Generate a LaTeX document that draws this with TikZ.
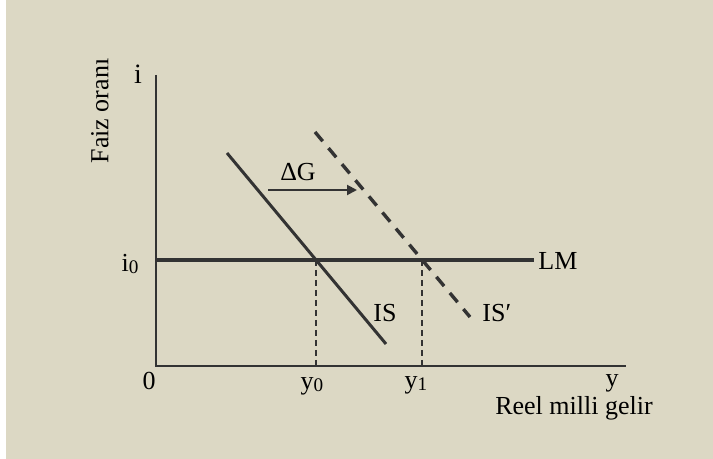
\documentclass[tikz,border=0pt]{standalone}
\usepackage{fontspec}
\setmainfont{Liberation Serif}
\usetikzlibrary{arrows.meta}
\definecolor{bgbeige}{HTML}{DCD8C4}
\definecolor{inkgray}{HTML}{333333}
\newcommand\lowsub[1]{\raisebox{-1pt}{\fontsize{9.6}{10}\selectfont#1}}
\begin{document}
\begin{tikzpicture}[x=0.5pt,y=-0.5pt,font=\fontsize{13}{15}\selectfont]
  \useasboundingbox (0,0) rectangle (713,459);
  \fill[bgbeige] (6,0) rectangle (713,459);
  \coordinate (O) at (156,366);
  \coordinate (T) at (156,75);
  \coordinate (X) at (626,366);
  \coordinate (L0) at (156,260);
  \coordinate (L1) at (534,260);
  \coordinate (E0) at (316,260);
  \coordinate (E1) at (422,260);
  \coordinate (S0) at (227,153);
  \coordinate (S1) at (386,344);
  \coordinate (P0) at (315,132);
  \coordinate (P1) at (470,317);
  \coordinate (G0) at (268,190);
  \coordinate (G1) at (357,190);
  % axes
  \draw[inkgray,line width=1pt] (T) -- (O) -- (X);
  % curves
  \draw[inkgray,line width=1.6pt] (L0) -- (L1);
  \draw[inkgray,line width=1.5pt] (S0) -- (S1);
  \draw[inkgray,line width=1.7pt,dash pattern=on 6pt off 4.5pt] (P0) -- (P1);
  \draw[inkgray,line width=0.75pt,dash pattern=on 3pt off 2pt] (E0) -- (E0 |- O);
  \draw[inkgray,line width=0.75pt,dash pattern=on 3pt off 2pt] (E1) -- (E1 |- O);
  \draw[inkgray,line width=1pt,-{Triangle[length=5pt,width=5pt]}] (G0) -- (G1);
  % labels
  \node[anchor=base,inner sep=0pt,font=\fontsize{14}{16}\selectfont] (ilab) at (138,84) {i};
  \node[rotate=90,inner sep=0pt] (ylab) at (100,111) {Faiz oranı};
  \node[anchor=base,inner sep=0pt] (i0) at (130,272) {i\lowsub{0}};
  \node[anchor=base,inner sep=0pt] (zero) at (149,390) {0};
  \node[anchor=base,inner sep=0pt] (y0) at (312,390) {y\lowsub{0}};
  \node[anchor=base,inner sep=0pt] (y1) at (416,389) {y\lowsub{1}};
  \node[anchor=base,inner sep=0pt] (ylab2) at (612,387) {y};
  \node[anchor=base,inner sep=0pt] (xlab) at (574,415) {Reel milli gelir};
  \node[anchor=base west,inner sep=0pt] (lm) at (538,270) {LM};
  \node[anchor=base west,inner sep=0pt] (is) at (373,322) {IS};
  \node[anchor=base west,inner sep=0pt] (isp) at (482,322) {IS′};
  \node[anchor=base,inner sep=0pt] (dg) at (298,181) {ΔG};
\end{tikzpicture}
\end{document}
